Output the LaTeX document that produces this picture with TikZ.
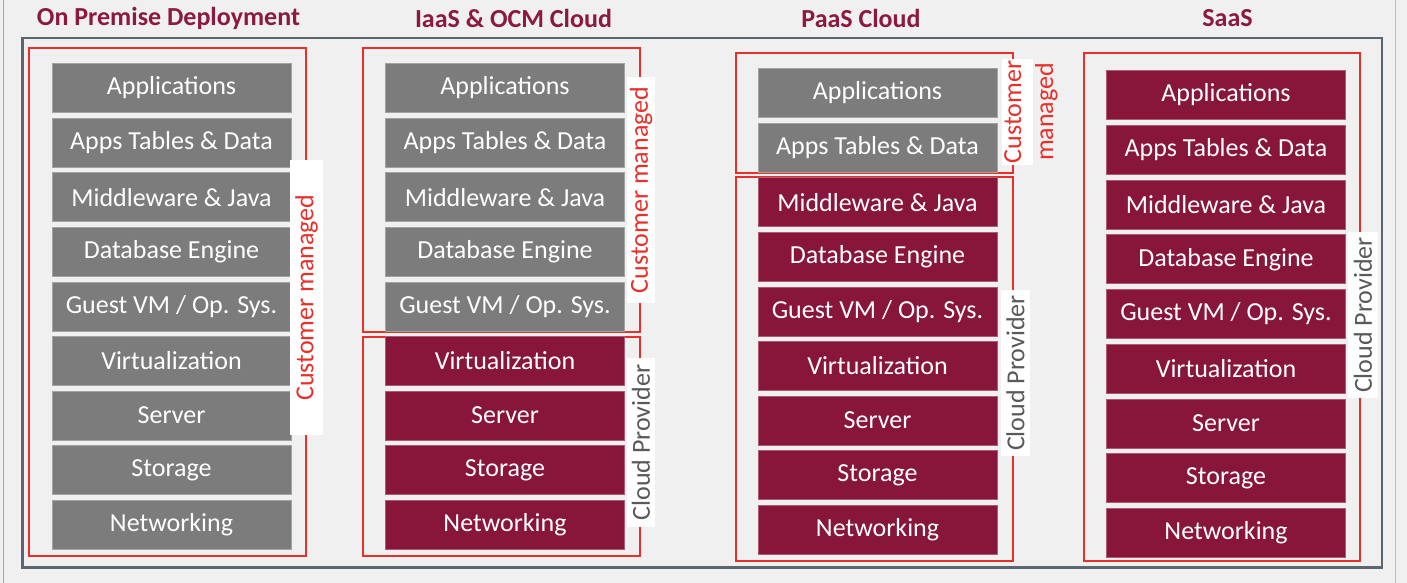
\documentclass[tikz,border=0pt]{standalone}
\usepackage{fontspec}
\setmainfont{Carlito}
\definecolor{bg}{HTML}{F0F0F0}
\definecolor{boxgray}{HTML}{7C7C7C}
\definecolor{maroon}{HTML}{88153A}
\definecolor{title}{HTML}{8B1A3E}
\definecolor{zone}{HTML}{E8302A}
\definecolor{frame}{HTML}{5B666E}
\definecolor{provtext}{HTML}{595959}
\begin{document}
\begin{tikzpicture}[x=1pt,y=-1pt,
  layer/.style={rectangle, fill=#1, draw=#1!70!white, line width=0.7pt,
    minimum width=239pt, minimum height=49pt, inner sep=0pt,
    text=white, font=\fontsize{26}{30}\selectfont},
  heading/.style={font=\fontsize{26}{30}\selectfont\bfseries, text=title},
  zonebox/.style={draw=zone, line width=2pt},
  tag/.style={rotate=90, fill=white, inner sep=0pt,
    font=\fontsize{26}{30}\selectfont},
  custtag/.style={tag, text=zone},
  provtag/.style={tag, text=provtext}]

% page background and side rules
\fill[bg] (0,0) rectangle (1407,583);
\useasboundingbox (0,0) rectangle (1407,583);
\draw[black!35, line width=1pt] (3,0) -- (3,583);
\draw[black!25, line width=1pt] (1395,0) -- (1395,583);

% column headings
\node[heading] (h1) at (168.5,18) {On Premise Deployment};
\node[heading] (h2) at (513.5,18) {IaaS \& OCM Cloud};
\node[heading] (h3) at (861,18) {PaaS Cloud};
\node[heading] (h4) at (1227.5,18) {SaaS};

% outer frame
\draw[frame, line width=2.5pt] (22.5,38) rectangle (1382,567.5);

% responsibility zones
\draw[zonebox] (29,48) rectangle (306,556);
\draw[zonebox] (363,48) rectangle (640,332);
\draw[zonebox] (363,337) rectangle (640,556);
\draw[zonebox] (736,53) rectangle (1013,173);
\draw[zonebox] (736,177) rectangle (1013,561);
\draw[zonebox] (1084,53) rectangle (1360,561);

% stacks of layers: column / centre x / first centre y / pitch / customer-managed count
\foreach \col/\cx/\cy/\dy/\ng in {1/171.5/88/54.6/9, 2/505/88/54.6/5,
                                  3/877.5/93/54.6/2, 4/1226/95/54.75/0} {
  \foreach \t [count=\i] in {Applications, Apps Tables \& Data,
      Middleware \& Java, Database Engine, Guest VM / Op. Sys.,
      Virtualization, Server, Storage, Networking} {
    \ifnum\i>\ng \def\fc{maroon}\else\def\fc{boxgray}\fi
    \node[layer=\fc] (b\col-\i) at (\cx, {\cy+\dy*(\i-1)}) {\t};
  }
}

% zone labels
\node[custtag, minimum width=275pt, minimum height=33pt] (cm1) at (306.5,297.5) {Customer managed};
\node[custtag, minimum width=226pt, minimum height=28pt] (cm2) at (641,190) {Customer managed};
\node[provtag, minimum width=169pt, minimum height=28pt] (cp2) at (641,442.5) {Cloud Provider};
\fill[white] (1002,59) rectangle (1033,165);
\node[rotate=90, text=zone, align=center, inner sep=0pt,
  font=\fontsize{26}{32}\selectfont] (cm3) at (1031,112) {Customer\\managed};
\node[provtag, minimum width=166pt, minimum height=29pt] (cp3) at (1015.5,373) {Cloud Provider};
\node[provtag, minimum width=166pt, minimum height=30pt] (cp4) at (1363,315) {Cloud Provider};
\end{tikzpicture}
\end{document}
